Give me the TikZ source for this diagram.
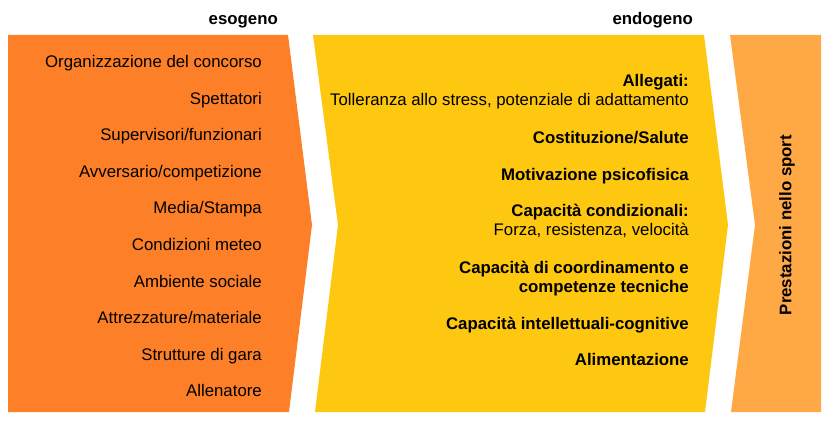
\documentclass[tikz,border=0pt]{standalone}
\usepackage{fontspec}
\setmainfont{Liberation Sans}
\usepackage{tikz}
\usetikzlibrary{positioning}
\definecolor{exoorange}{RGB}{253,127,40}
\definecolor{endoyellow}{RGB}{254,199,16}
\definecolor{sportorange}{RGB}{255,169,70}
\begin{document}
\begin{tikzpicture}[x=1pt,y=-1pt,
    font=\fontsize{16.8}{19}\selectfont,
    item node/.style={anchor=base east,inner sep=0pt,align=right},
    head node/.style={anchor=base east,inner sep=0pt,font=\fontsize{16.8}{19}\selectfont\bfseries},
    key node/.style={item node,font=\fontsize{16.8}{19}\selectfont\bfseries}]
   \useasboundingbox (0,0) rectangle (830,425);
   % the three chevron fields
   \fill[exoorange] (8,35) -- (288,35) -- (312,225) -- (289,412) -- (8,412) -- cycle;
   \fill[endoyellow] (313,35) -- (704,35) -- (728,225) -- (705,412) -- (315,412) -- (338,225) -- cycle;
   \fill[sportorange] (730,35) -- (821,35) -- (821,412) -- (731,412) -- (755,225) -- cycle;
   % headings
   \node[head node] (exo) at (278,25) {esogeno};
   \node[head node] (endo) at (693,25) {endogeno};
   % exogenous factors
   \node[item node] (a) at (262,67.5) {Organizzazione del concorso};
   \node[item node] (b) at (262,104.1) {Spettatori};
   \node[item node] (c) at (262,140.7) {Supervisori/funzionari};
   \node[item node] (d) at (262,177.3) {Avversario/competizione};
   \node[item node] (e) at (262,213.9) {Media/Stampa};
   \node[item node] (f) at (262,250.5) {Condizioni meteo};
   \node[item node] (g) at (262,287.1) {Ambiente sociale};
   \node[item node] (h) at (262,323.7) {Attrezzature/materiale};
   \node[item node] (i) at (262,360.3) {Strutture di gara};
   \node[item node] (j) at (262,396.9) {Allenatore};
   % endogenous factors (multi-line nodes sit on their last line)
   \node[item node] (k) at (689,106) {\textbf{Allegati:}\\Tolleranza allo stress, potenziale di adattamento};
   \node[key node] (l) at (689,143) {Costituzione/Salute};
   \node[key node] (m) at (689,180) {Motivazione psicofisica};
   \node[item node] (n) at (689,235) {\textbf{Capacità condizionali:}\\Forza, resistenza, velocità};
   \node[key node] (o) at (689,292) {Capacità di coordinamento e\\competenze tecniche};
   \node[key node] (p) at (689,329) {Capacità intellettuali-cognitive};
   \node[key node] (q) at (689,365) {Alimentazione};
   % result
   \node[font=\fontsize{16.8}{19}\selectfont\bfseries,rotate=90,inner sep=0pt] (r) at (787,225) {Prestazioni nello sport};
\end{tikzpicture}
\end{document}
